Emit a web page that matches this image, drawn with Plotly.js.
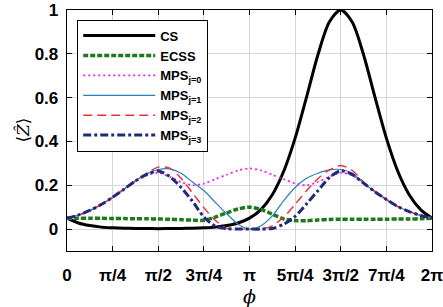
<!DOCTYPE html>
<html>
<head>
<meta charset="utf-8">
<script src="https://cdn.plot.ly/plotly-3.0.1.min.js"></script>
<style>html,body{margin:0;padding:0;background:#fff;}#chart{width:443px;height:307px;}</style>
</head>
<body>
<div id="chart"></div>
<script>
// sample positions: phi in units of pi (steps of pi/16)
const phiOverPi = [0,0.0625,0.125,0.1875,0.25,0.3125,0.375,0.4375,0.5,0.5625,0.625,0.6875,0.75,0.8125,0.875,0.9375,1,
  1.0625,1.125,1.1875,1.25,1.3125,1.375,1.4375,1.5,1.5625,1.625,1.6875,1.75,1.8125,1.875,1.9375,2];

const csVals = [0.050,0.028,0.016,0.009,0.006,0.004,0.003,0.003,0.002,0.003,0.003,0.004,0.006,0.009,0.016,0.028,0.050,
  0.089,0.157,0.264,0.415,0.602,0.796,0.945,1.000,0.945,0.796,0.602,0.415,0.264,0.157,0.089,0.050];
const ecssVals = [0.050,0.050,0.049,0.049,0.048,0.048,0.047,0.047,0.046,0.045,0.043,0.041,0.040,0.055,0.074,0.092,0.100,
  0.090,0.068,0.046,0.039,0.038,0.042,0.044,0.045,0.045,0.045,0.045,0.045,0.046,0.046,0.047,0.050];
const mps0Vals = [0.050,0.064,0.085,0.112,0.145,0.182,0.220,0.245,0.257,0.239,0.215,0.200,0.208,0.228,0.248,0.268,0.277,
  0.268,0.248,0.228,0.208,0.200,0.215,0.239,0.257,0.245,0.210,0.170,0.135,0.103,0.080,0.062,0.050];
const mps1Vals = [0.050,0.064,0.085,0.112,0.145,0.182,0.220,0.252,0.272,0.275,0.255,0.215,0.176,0.122,0.070,0.022,0.000,
  0.015,0.060,0.130,0.190,0.232,0.255,0.270,0.272,0.255,0.210,0.170,0.135,0.103,0.080,0.062,0.050];
const mps2Vals = [0.050,0.064,0.085,0.112,0.145,0.182,0.220,0.255,0.283,0.278,0.232,0.165,0.098,0.040,0.004,0.000,0.000,
  0.000,0.015,0.055,0.113,0.175,0.230,0.270,0.290,0.268,0.215,0.172,0.135,0.103,0.080,0.062,0.050];
const mps3Vals = [0.050,0.064,0.085,0.112,0.145,0.182,0.220,0.250,0.265,0.240,0.190,0.127,0.055,0.013,0.002,0.000,0.000,
  0.000,0.003,0.022,0.058,0.115,0.175,0.235,0.266,0.250,0.210,0.170,0.135,0.103,0.080,0.062,0.050];

const seriesNames = ['CS','ECSS','MPS<sub>j=0</sub>','MPS<sub>j=1</sub>','MPS<sub>j=2</sub>','MPS<sub>j=3</sub>'];
const xTickText = ['0','π/4','π/2','3π/4','π','5π/4','3π/2','7π/4','2π'];
const yTickVals = [0,0.2,0.4,0.6,0.8,1];
const yTickText = ['0','0.2','0.4','0.6','0.8','1'];
const xTitle = '<i>ϕ</i>';
const yTitle = '⟨<i>Ẑ</i>⟩';

const x = phiOverPi.map(v => v*Math.PI);
const styles = [
  {color:'#000000', width:3, dash:'solid'},
  {color:'#1c7a1c', width:3.5, dash:'5px,2px'},
  {color:'#ee22ee', width:1.8, dash:'2px,3px'},
  {color:'#2a7fb8', width:1.2, dash:'solid'},
  {color:'#e8323c', width:1.4, dash:'9px,5px'},
  {color:'#1f2a7a', width:3, dash:'8px,3px,3px,3px'}
];
const vals = [csVals, ecssVals, mps0Vals, mps1Vals, mps2Vals, mps3Vals];
const traces = vals.map((v,i)=>({
  x: x, y: v, type:'scatter', mode:'lines', name: seriesNames[i],
  line: Object.assign({shape:'spline', smoothing:0.8}, styles[i])
}));

const tickFont = {family:'Liberation Sans, Arial, sans-serif', size:17, color:'#000', weight:'bold'};
const layout = {
  width:443, height:307,
  margin:{l:67, r:11, t:10, b:56},
  paper_bgcolor:'#fff', plot_bgcolor:'#fff',
  showlegend:true,
  xaxis:{
    range:[0, 2*Math.PI], tickvals: xTickText.map((_,i)=>i*Math.PI/4), ticktext: xTickText,
    ticks:'inside', ticklen:5, tickcolor:'#000', showline:true, linecolor:'#000', linewidth:1.3, mirror:'ticks',
    showgrid:true, gridcolor:'#d6d6d6', gridwidth:1, zeroline:false,
    tickfont: tickFont, ticklabelstandoff:8, ticklabeloverflow:'allow',
    title:{text:xTitle, font:{family:'DejaVu Serif, serif', size:19, color:'#000'}, standoff:2}
  },
  yaxis:{
    range:[-0.1, 1.0], tickvals: yTickVals, ticktext: yTickText,
    ticks:'inside', ticklen:5, tickcolor:'#000', showline:true, linecolor:'#000', linewidth:1.3, mirror:'ticks',
    showgrid:true, gridcolor:'#d6d6d6', gridwidth:1, zeroline:false,
    tickfont: tickFont, ticklabelstandoff:4, ticklabeloverflow:'allow'
  },
  annotations:[{
    text: yTitle, xref:'paper', yref:'paper', x:-0.123, y:0.5, xanchor:'center', yanchor:'middle',
    textangle:-90, showarrow:false, font:{family:'DejaVu Serif, serif', size:17, color:'#000'}
  }],
  legend:{
    x:0.028, y:0.96, xanchor:'left', yanchor:'top',
    bgcolor:'#fff', bordercolor:'#000', borderwidth:1,
    font:{family:'Liberation Sans, Arial, sans-serif', size:13, color:'#000', weight:'bold'},
    tracegroupgap:0, itemwidth:72
  }
};
Plotly.newPlot('chart', traces, layout, {displayModeBar:false, staticPlot:true});
</script>
</body>
</html>
